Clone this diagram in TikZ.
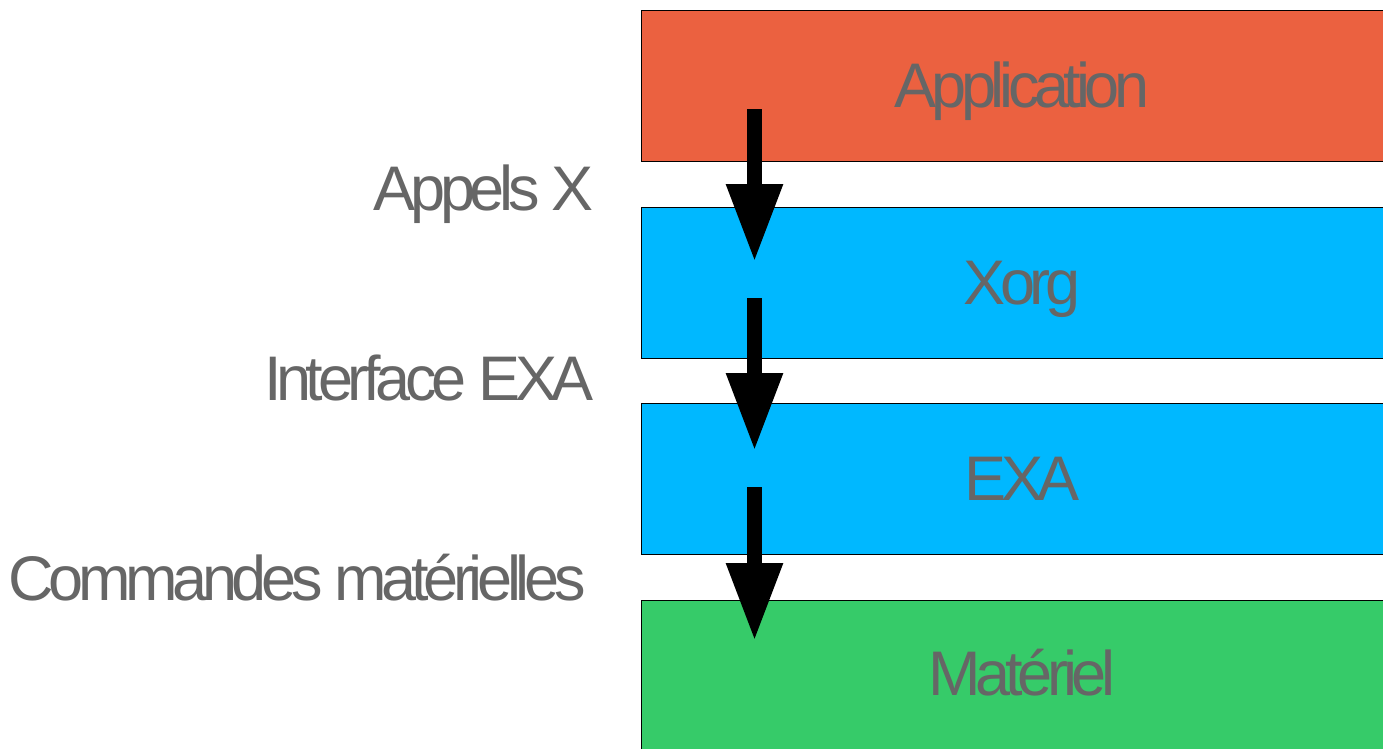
\documentclass[tikz,border=0pt]{standalone}
\usepackage{fontspec}
\setmainfont{Liberation Sans}[LetterSpace=-8.5]
\usetikzlibrary{arrows.meta}
\definecolor{apporange}{HTML}{EB6140}
\definecolor{layerblue}{HTML}{00B8FF}
\definecolor{hwgreen}{HTML}{36CB69}
\definecolor{txtgray}{HTML}{666666}
\begin{document}
\begin{tikzpicture}[x=1bp,y=-1bp,
  layer/.style={draw=black,line width=1bp,minimum width=762bp,minimum height=151bp,anchor=north west,inner sep=0pt,
    font=\fontsize{63bp}{70bp}\selectfont,text=txtgray},
  lbl/.style={anchor=base east,inner sep=0pt,font=\fontsize{63bp}{70bp}\selectfont,text=txtgray},
  ttl/.style={anchor=base,inner sep=0pt,font=\fontsize{63bp}{70bp}\selectfont,text=txtgray},
  flow/.style={line width=15bp,-{Triangle[width=53bp,length=78bp]}}]
\useasboundingbox (0,0) rectangle (1383,748);
\node[layer,fill=apporange] (app) at (641,10) {};
\node[layer,fill=layerblue] (xorg) at (641,207) {};
\node[layer,fill=layerblue] (exa) at (641,403) {};
\node[layer,fill=hwgreen] (hw) at (641,600) {};
\node[ttl] (tapp) at (1022,107) {Application};
\node[ttl] (txorg) at (1022,304) {Xorg};
\node[ttl] (texa) at (1022,500) {EXA};
\node[ttl] (thw) at (1022,695) {Matériel};
\node[lbl] (l1) at (594,210) {Appels X};
\node[lbl] (l2) at (594,400) {Interface EXA};
\node[lbl] (l3) at (586,600) {Commandes matérielles};
\coordinate (a1s) at (754.5,109);
\coordinate (a1e) at (754.5,262);
\coordinate (a2s) at (754.5,298);
\coordinate (a2e) at (754.5,451);
\coordinate (a3s) at (754.5,487);
\coordinate (a3e) at (754.5,641);
\draw[flow] (a1s) -- (a1e);
\draw[flow] (a2s) -- (a2e);
\draw[flow] (a3s) -- (a3e);
\end{tikzpicture}
\end{document}
